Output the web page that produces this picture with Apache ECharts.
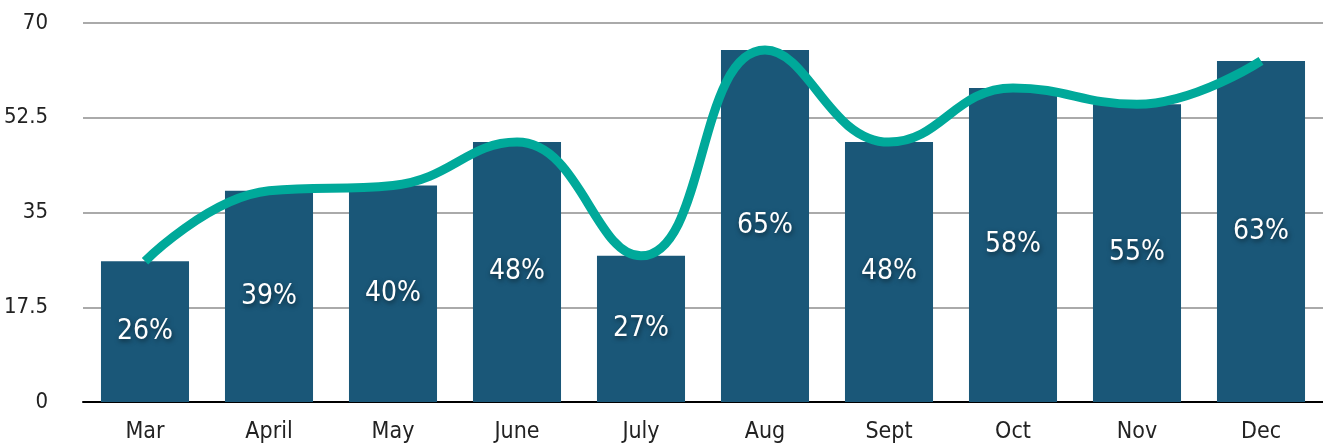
<!DOCTYPE html>
<html>
<head>
<meta charset="utf-8">
<script src="https://cdn.jsdelivr.net/npm/echarts@6/dist/echarts.min.js"></script>
<style>
	html, body { margin: 0; padding: 0; background: #fff; }
	#main { width: 1323px; height: 447px; }
</style>
</head>
<body>
<div id="main"></div>
<script>
	//数据
	const months = ['Mar', 'April', 'May', 'June', 'July', 'Aug', 'Sept', 'Oct', 'Nov', 'Dec'];
	const barValues = [26, 39, 40, 48, 27, 65, 48, 58, 55, 63];
	const lineValues = [26, 39, 40, 48, 27, 65, 48, 58, 55, 63];
	const yTicks = [0, 17.5, 35, 52.5, 70];

	const fontName = '"Liberation Sans Narrow", "DejaVu Sans Condensed", sans-serif';

	const chart = echarts.init(document.getElementById('main'));

	const options = {
		backgroundColor: '#ffffff',
		animation: false,
		grid: {
			left: 83,
			right: 0,
			top: 23,
			bottom: 45,
			containLabel: false,
			outerBoundsMode: 'none'
		},
		xAxis: {
			type: 'category',
			data: months,
			axisTick: { show: false },
			axisLine: {
				lineStyle: { color: '#000', width: 2 }
			},
			axisLabel: {
				color: '#222',
				fontFamily: fontName,
				fontSize: 23,
				margin: 19
			}
		},
		yAxis: {
			type: 'value',
			min: yTicks[0],
			max: yTicks[yTicks.length - 1],
			interval: 17.5,
			axisLine: { show: false },
			axisTick: { show: false },
			axisLabel: {
				color: '#222',
				fontFamily: fontName,
				fontSize: 22,
				margin: 35
			},
			splitLine: {
				lineStyle: { color: '#aaaaaa', width: 2 }
			}
		},
		series: [{
			name: 'bars',
			type: 'bar',
			data: barValues,
			barWidth: '71%',
			itemStyle: { color: '#1a5778' },
			label: {
				show: true,
				position: 'inside',
				formatter: '{c}%',
				color: '#fff',
				fontFamily: fontName,
				fontSize: 28,
				textShadowColor: 'rgba(0,0,0,0.55)',
				textShadowBlur: 5,
				textShadowOffsetX: 1,
				textShadowOffsetY: 2
			}
		}, {
			name: 'line',
			type: 'line',
			data: lineValues,
			smooth: 0.45,
			symbol: 'none',
			lineStyle: { color: '#00a99a', width: 9, cap: 'butt' },
			z: 5
		}]
	};

	chart.setOption(options);
</script>
</body>
</html>
